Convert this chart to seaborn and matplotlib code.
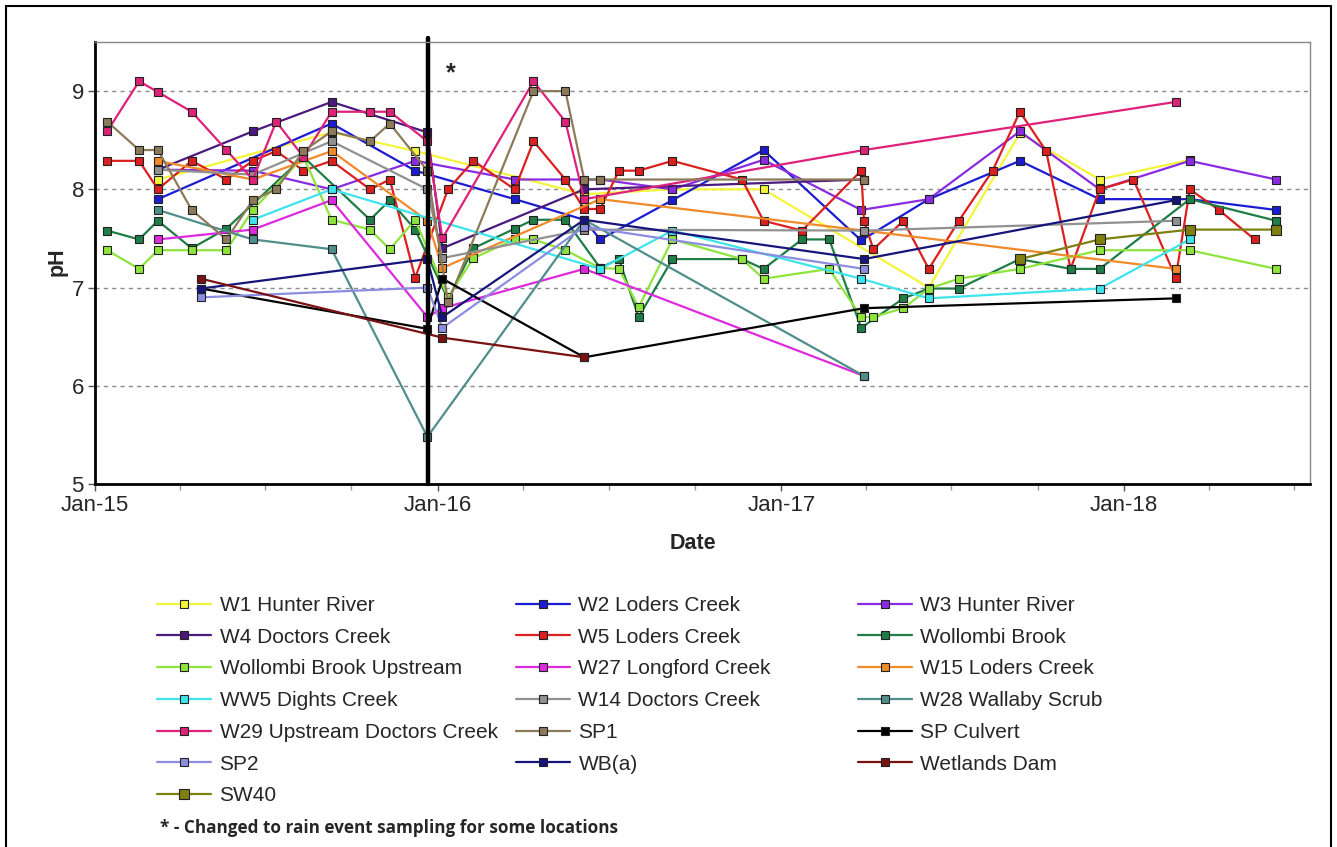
import pandas as pd
import seaborn as sns
import matplotlib.pyplot as plt
import matplotlib.dates as mdates
from matplotlib.patches import Rectangle

# pH readings per site
w1_dates = ['2015-03-09', '2015-09-10', '2015-12-08', '2016-06-05', '2016-09-07', '2016-12-13',
            '2017-06-07', '2017-09-12', '2017-12-06', '2018-03-12']
w1_ph = [8.1, 8.58, 8.39, 7.95, 8.0, 8.0, 7.0, 8.57, 8.1, 8.3]

w2_dates = ['2015-03-09', '2015-09-10', '2015-12-08', '2016-03-23', '2016-06-05', '2016-06-22',
            '2016-09-07', '2016-12-13', '2017-03-27', '2017-06-07', '2017-09-12', '2017-12-06',
            '2018-03-12', '2018-06-12']
w2_ph = [7.9, 8.67, 8.19, 7.9, 7.69, 7.49, 7.89, 8.4, 7.48, 7.9, 8.29, 7.9, 7.9, 7.79]

w3_dates = ['2015-03-09', '2015-06-18', '2015-09-10', '2015-12-08', '2016-03-23', '2016-06-22',
            '2016-09-07', '2016-12-13', '2017-03-27', '2017-06-07', '2017-09-12', '2017-12-06',
            '2018-03-12', '2018-06-12']
w3_ph = [8.2, 8.19, 8.0, 8.29, 8.1, 8.1, 8.0, 8.3, 7.79, 7.9, 8.59, 8.0, 8.29, 8.1]

w4_dates = ['2015-03-09', '2015-06-18', '2015-09-10', '2015-12-21', '2016-01-06', '2016-06-05',
            '2017-03-30']
w4_ph = [8.2, 8.59, 8.89, 8.58, 7.4, 8.0, 8.1]

w5_dates = ['2015-01-14', '2015-02-17', '2015-03-09', '2015-04-14', '2015-05-21', '2015-06-18',
            '2015-07-13', '2015-08-11', '2015-09-10', '2015-10-21', '2015-11-11', '2015-12-08',
            '2016-01-12', '2016-02-08', '2016-03-23', '2016-04-12', '2016-05-16', '2016-06-05',
            '2016-06-22', '2016-07-12', '2016-08-02', '2016-09-07', '2016-11-20', '2016-12-13',
            '2017-01-23', '2017-03-27', '2017-03-30', '2017-04-09', '2017-05-11', '2017-06-07',
            '2017-07-09', '2017-08-14', '2017-09-12', '2017-10-10', '2017-11-05', '2017-12-06',
            '2018-01-11', '2018-02-25', '2018-03-12', '2018-04-12', '2018-05-20']
w5_ph = [8.29, 8.29, 8.0, 8.29, 8.1, 8.29, 8.39, 8.19, 8.29, 8.0, 8.1, 7.1,
         8.0, 8.29, 8.0, 8.49, 8.1, 7.8, 7.8, 8.19, 8.19, 8.29, 8.1, 7.68,
         7.58, 8.19, 7.68, 7.39, 7.68, 7.19, 7.68, 8.19, 8.79, 8.39, 7.19, 8.0,
         8.1, 7.1, 8.0, 7.79, 7.49]

wb_dates = ['2015-01-14', '2015-02-17', '2015-03-09', '2015-04-14', '2015-05-21', '2015-08-11',
            '2015-10-21', '2015-11-11', '2015-12-08', '2016-01-12', '2016-02-08', '2016-03-23',
            '2016-04-12', '2016-05-16', '2016-06-22', '2016-07-12', '2016-08-02', '2016-09-07',
            '2016-11-20', '2016-12-13', '2017-01-23', '2017-02-21', '2017-03-27', '2017-05-11',
            '2017-06-07', '2017-07-09', '2017-09-12', '2017-11-05', '2017-12-06', '2018-03-12',
            '2018-06-12']
wb_ph = [7.58, 7.49, 7.68, 7.4, 7.6, 8.33, 7.69, 7.89, 7.59, 6.88, 7.4, 7.6,
         7.69, 7.69, 7.2, 7.29, 6.7, 7.29, 7.29, 7.19, 7.49, 7.49, 6.59, 6.89,
         6.99, 6.99, 7.29, 7.19, 7.19, 7.9, 7.68]

wbu_dates = ['2015-01-14', '2015-02-17', '2015-03-09', '2015-04-14', '2015-05-21', '2015-06-18',
             '2015-08-11', '2015-09-10', '2015-10-21', '2015-11-11', '2015-12-08', '2016-01-12',
             '2016-02-08', '2016-03-23', '2016-04-12', '2016-05-16', '2016-06-22', '2016-07-12',
             '2016-08-02', '2016-09-07', '2016-11-20', '2016-12-13', '2017-02-21', '2017-03-27',
             '2017-04-09', '2017-05-11', '2017-06-07', '2017-07-09', '2017-09-12', '2017-12-06',
             '2018-03-12', '2018-06-12']
wbu_ph = [7.38, 7.19, 7.38, 7.38, 7.38, 7.79, 8.33, 7.69, 7.59, 7.39, 7.69, 6.9,
          7.3, 7.49, 7.49, 7.38, 7.2, 7.19, 6.8, 7.49, 7.29, 7.09, 7.19, 6.7,
          6.7, 6.79, 6.99, 7.09, 7.19, 7.38, 7.38, 7.19]

w27_dates = ['2015-03-09', '2015-06-18', '2015-09-10', '2015-12-21', '2016-01-06', '2016-06-05',
             '2017-03-30']
w27_ph = [7.49, 7.59, 7.89, 6.7, 6.79, 7.19, 6.1]

w15_dates = ['2015-03-09', '2015-06-18', '2015-09-10', '2015-12-21', '2016-01-06', '2016-06-22',
             '2017-03-30', '2018-02-25']
w15_ph = [8.29, 8.1, 8.39, 7.68, 7.2, 7.9, 7.58, 7.19]

ww5_dates = ['2015-06-18', '2015-09-10', '2016-06-22', '2016-09-07', '2017-03-27', '2017-06-07',
             '2017-12-06', '2018-03-12']
ww5_ph = [7.69, 8.0, 7.19, 7.58, 7.09, 6.89, 6.99, 7.49]

w14_dates = ['2015-03-09', '2015-06-18', '2015-09-10', '2015-12-21', '2016-01-06', '2016-06-05',
             '2017-03-30', '2018-02-25']
w14_ph = [8.2, 8.15, 8.49, 8.0, 7.3, 7.59, 7.58, 7.68]

w28_dates = ['2015-03-09', '2015-06-18', '2015-09-10', '2015-12-21', '2016-06-05', '2017-03-30']
w28_ph = [7.79, 7.49, 7.39, 5.48, 7.69, 6.1]

w29_dates = ['2015-01-14', '2015-02-17', '2015-03-09', '2015-04-14', '2015-05-21', '2015-06-18',
             '2015-07-13', '2015-08-11', '2015-09-10', '2015-10-21', '2015-11-11', '2015-12-21',
             '2016-01-06', '2016-04-12', '2016-05-16', '2016-06-05', '2017-03-30', '2018-02-25']
w29_ph = [8.59, 9.1, 8.99, 8.79, 8.4, 8.1, 8.69, 8.33, 8.79, 8.79, 8.79, 8.49,
          7.5, 9.1, 8.69, 7.9, 8.4, 8.89]

sp1_dates = ['2015-01-14', '2015-02-17', '2015-03-09', '2015-04-14', '2015-05-21', '2015-06-18',
             '2015-07-13', '2015-08-11', '2015-09-10', '2015-10-21', '2015-11-11', '2015-12-21',
             '2016-01-12', '2016-04-12', '2016-05-16', '2016-06-05', '2016-06-22', '2017-03-30']
sp1_ph = [8.69, 8.4, 8.4, 7.79, 7.49, 7.89, 8.0, 8.39, 8.59, 8.49, 8.67, 8.19,
          6.85, 9.0, 9.0, 8.1, 8.1, 8.1]

spc_dates = ['2015-04-24', '2015-12-21', '2016-01-06', '2016-06-05', '2017-03-30', '2018-02-25']
spc_ph = [6.99, 6.58, 7.09, 6.29, 6.79, 6.89]

sp2_dates = ['2015-04-24', '2015-12-21', '2016-01-06', '2016-06-05', '2017-03-30']
sp2_ph = [6.9, 7.0, 6.59, 7.62, 7.19]

wba_dates = ['2015-04-24', '2015-12-21', '2016-01-06', '2016-06-05', '2017-03-30', '2018-02-25']
wba_ph = [6.99, 7.29, 6.7, 7.69, 7.29, 7.89]

wd_dates = ['2015-04-24', '2016-01-06', '2016-06-05']
wd_ph = [7.09, 6.49, 6.29]

sw40_dates = ['2017-09-12', '2017-12-06', '2018-03-12', '2018-06-12']
sw40_ph = [7.29, 7.49, 7.59, 7.59]

rain_event_date = '2015-12-22'

series = [
    ("W1 Hunter River", w1_dates, w1_ph),
    ("W2 Loders Creek", w2_dates, w2_ph),
    ("W3 Hunter River", w3_dates, w3_ph),
    ("W4 Doctors Creek", w4_dates, w4_ph),
    ("W5 Loders Creek", w5_dates, w5_ph),
    ("Wollombi Brook", wb_dates, wb_ph),
    ("Wollombi Brook Upstream", wbu_dates, wbu_ph),
    ("W27 Longford Creek", w27_dates, w27_ph),
    ("W15 Loders Creek", w15_dates, w15_ph),
    ("WW5 Dights Creek", ww5_dates, ww5_ph),
    ("W14 Doctors Creek", w14_dates, w14_ph),
    ("W28 Wallaby Scrub", w28_dates, w28_ph),
    ("W29 Upstream Doctors Creek", w29_dates, w29_ph),
    ("SP1", sp1_dates, sp1_ph),
    ("SP Culvert", spc_dates, spc_ph),
    ("SP2", sp2_dates, sp2_ph),
    ("WB(a)", wba_dates, wba_ph),
    ("Wetlands Dam", wd_dates, wd_ph),
    ("SW40", sw40_dates, sw40_ph),
]

colors = {
    "W1 Hunter River": "#f4f43a",
    "W2 Loders Creek": "#1c1cd2",
    "W3 Hunter River": "#8a2be2",
    "W4 Doctors Creek": "#4b1a7e",
    "W5 Loders Creek": "#dc1f1f",
    "Wollombi Brook": "#1f7d46",
    "Wollombi Brook Upstream": "#8fe43c",
    "W27 Longford Creek": "#de2ade",
    "W15 Loders Creek": "#f08a2a",
    "WW5 Dights Creek": "#3ee4ec",
    "W14 Doctors Creek": "#919191",
    "W28 Wallaby Scrub": "#4f8e8a",
    "W29 Upstream Doctors Creek": "#de2179",
    "SP1": "#8c7a5a",
    "SP Culvert": "#000000",
    "SP2": "#8c8ce0",
    "WB(a)": "#15157c",
    "Wetlands Dam": "#7a1212",
    "SW40": "#7f7f12",
}

legend_cols = [
    ["W1 Hunter River", "W4 Doctors Creek", "Wollombi Brook Upstream", "WW5 Dights Creek",
     "W29 Upstream Doctors Creek", "SP2", "SW40"],
    ["W2 Loders Creek", "W5 Loders Creek", "W27 Longford Creek", "W14 Doctors Creek",
     "SP1", "WB(a)"],
    ["W3 Hunter River", "Wollombi Brook", "W15 Loders Creek", "W28 Wallaby Scrub",
     "SP Culvert", "Wetlands Dam"],
]


def main():
    sns.set_theme(style="white")
    plt.rcParams['font.family'] = ['Liberation Sans', 'DejaVu Sans']

    W, H = 1337, 847
    fig = plt.figure(figsize=(W / 100, H / 100), dpi=100)
    ax = fig.add_axes([95 / W, 1 - 484 / H, 1215 / W, 442 / H])

    for name, dates, vals in series:
        df = pd.DataFrame({"date": pd.to_datetime(dates), "ph": vals})
        big = name == "SW40"
        sns.lineplot(data=df, x="date", y="ph", ax=ax, color=colors[name], label=name,
                     marker="s", markersize=7.5 if big else 5.8, markeredgecolor="#222222",
                     markeredgewidth=0.8, linewidth=1.6, estimator=None)

    handles, labels = ax.get_legend_handles_labels()
    lookup = dict(zip(labels, handles))
    if ax.get_legend() is not None:
        ax.get_legend().remove()

    # rain event marker
    ax.axvline(pd.Timestamp(rain_event_date), color="black", lw=3.2, ymax=1.01, clip_on=False)
    ax.text(pd.Timestamp('2016-01-15'), 9.18, "*", fontsize=18, fontweight="bold",
            ha="center", va="center")

    ax.set_ylim(5, 9.5)
    ax.set_xlim(pd.Timestamp('2015-01-01'), pd.Timestamp('2018-07-18'))
    ax.set_yticks([5, 6, 7, 8, 9])
    ax.xaxis.set_major_locator(mdates.YearLocator())
    ax.xaxis.set_major_formatter(mdates.DateFormatter('%b-%y'))
    ax.xaxis.set_minor_locator(mdates.MonthLocator(bymonth=[4, 7, 10]))
    ax.tick_params(axis='both', which='major', labelsize=16, length=5, width=1, color='#555555',
                   bottom=True, left=True, pad=3)
    ax.tick_params(axis='x', which='minor', length=4, width=1, color='#999999', bottom=True)

    ax.yaxis.grid(True, linestyle=(0, (3, 3)), color='#8a8a8a', lw=1)
    ax.xaxis.grid(False)
    for side in ['left', 'bottom']:
        ax.spines[side].set_color('black')
        ax.spines[side].set_linewidth(2)
    for side in ['top', 'right']:
        ax.spines[side].set_color('#888888')
        ax.spines[side].set_linewidth(1)

    ax.set_xlabel("Date", fontsize=15.5, fontweight="bold")
    ax.set_ylabel("pH", fontsize=15.5, fontweight="bold")
    ax.xaxis.set_label_coords((693 - 95) / 1215, -(533 - 484) / 442)
    ax.yaxis.set_label_coords((68 - 95) / 1215, 1 - (262 - 42) / 442)

    # three legend columns placed like the original
    col_x = [157, 516, 858]
    for cx, names in zip(col_x, legend_cols):
        fig.legend([lookup[n] for n in names], names, loc='upper left',
                   bbox_to_anchor=(cx / W, 1 - 596 / H), bbox_transform=fig.transFigure,
                   frameon=False, fontsize=15, borderpad=0, borderaxespad=0,
                   handlelength=2.6, handletextpad=0.4, labelspacing=0.61)

    fig.text(160 / W, 1 - 828 / H, "* - Changed to rain event sampling for some locations",
             fontsize=12.3, fontweight="bold", family=['Open Sans', 'DejaVu Sans'],
             ha="left", va="center")

    # outer frame around the whole picture
    fig.add_artist(Rectangle((6 / W, -0.02), 1325 / W, 1 - 6 / H + 0.02, transform=fig.transFigure,
                             fill=False, edgecolor="black", lw=1.5))

    fig.savefig("out.png", dpi=100)


if __name__ == "__main__":
    main()
